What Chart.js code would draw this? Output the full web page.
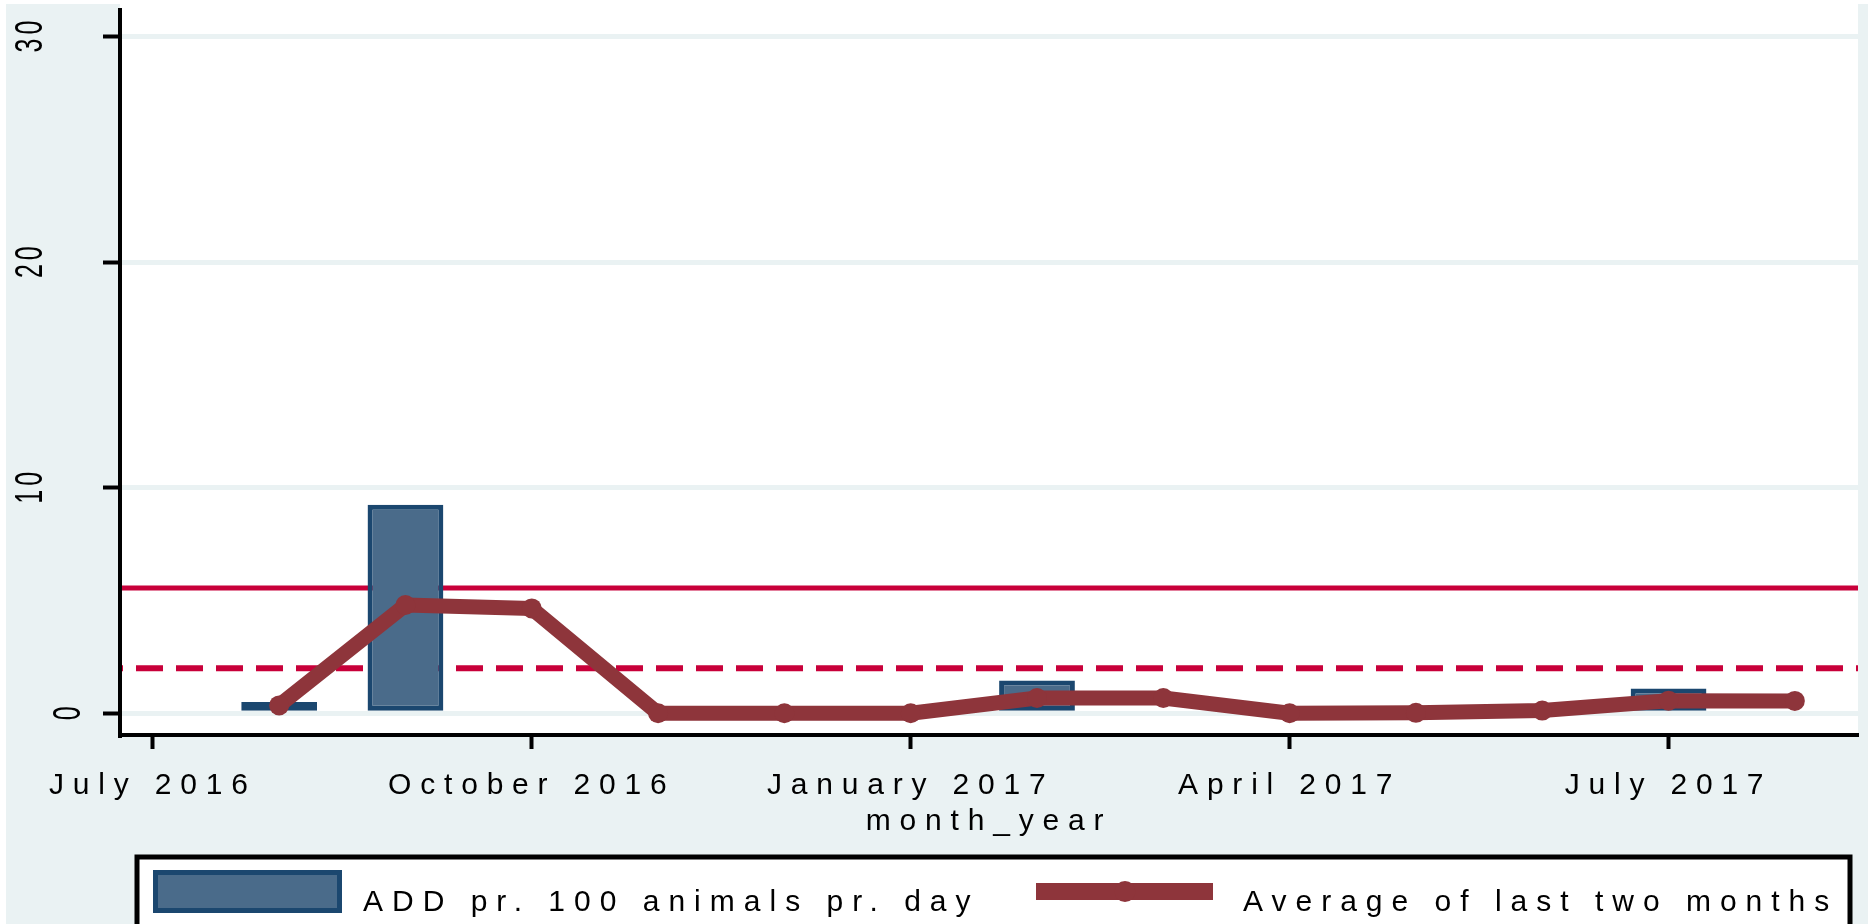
<!DOCTYPE html>
<html><head><meta charset="utf-8">
<script src="https://cdn.jsdelivr.net/npm/chart.js@4/dist/chart.umd.min.js"></script>
<style>html,body{margin:0;padding:0;background:#fff;overflow:hidden}#wrap{width:1868px;height:924px;position:relative}</style>
</head><body><div id="wrap"><canvas id="c" width="1868" height="924"></canvas></div>
<script>
// ---- data ----
const categories = ['August 2016','September 2016','October 2016','November 2016','December 2016','January 2017','February 2017','March 2017','April 2017','May 2017','June 2017','July 2017','August 2017'];
const monthIndex = [1,2,3,4,5,6,7,8,9,10,11,12,13]; // months since July 2016
const addValues = [0.5, 9.25, null, null, null, null, 1.45, null, null, null, null, 1.1, null];
const avgValues = [0.35, 4.8, 4.65, 0, 0, 0, 0.68, 0.68, 0, 0.02, 0.12, 0.56, 0.55];
const xTickValues = [0, 3, 6, 9, 12];
const xTickLabels = ['July 2016','October 2016','January 2017','April 2017','July 2017'];
const yTickValues = [0, 10, 20, 30];
const yTickLabels = ['0','10','20','30'];
const upperLimit = 5.55;
const lowerLimit = 2;
const seriesNames = ['ADD pr. 100 animals pr. day','Average of last two months'];
const xTitle = 'month_year';

// ---- styles ----
const FONT = '"Liberation Sans", Arial, sans-serif';
const BG = '#EAF2F3';
const BAR_FILL = '#4A6B8A', BAR_EDGE = '#1B476F';
const LINE_COL = '#8E353B';
const REF_COL = '#C8003A';

const bgPlugin = {
  id: 'bg',
  beforeDraw(chart) {
    const {ctx, chartArea: a, width, height} = chart;
    ctx.save();
    ctx.fillStyle = '#fff'; ctx.fillRect(0, 0, width, height);
    ctx.fillStyle = BG; ctx.fillRect(6, 4, width - 6, height - 4);
    ctx.fillStyle = '#fff'; ctx.fillRect(a.left, 0, a.right - a.left, a.bottom);
    ctx.restore();
    ctx.letterSpacing = '8.8px';
  }
};

const refPlugin = {
  id: 'refLines',
  beforeDatasetsDraw(chart) {
    const {ctx, chartArea: a, scales: {y}} = chart;
    ctx.save();
    ctx.strokeStyle = REF_COL;
    ctx.lineWidth = 5;
    let py = y.getPixelForValue(upperLimit);
    ctx.beginPath(); ctx.moveTo(a.left + 2, py); ctx.lineTo(a.right, py); ctx.stroke();
    ctx.lineWidth = 6;
    ctx.setLineDash([27, 13]);
    ctx.lineDashOffset = -14;
    py = y.getPixelForValue(lowerLimit);
    ctx.beginPath(); ctx.moveTo(a.left + 2, py); ctx.lineTo(a.right, py); ctx.stroke();
    ctx.restore();
  }
};

const yLabelPlugin = {
  id: 'yLabels',
  afterDraw(chart) {
    const {ctx, chartArea: a, scales: {y}} = chart;
    ctx.save();
    ctx.font = '25px ' + FONT;
    ctx.fillStyle = '#000';
    ctx.textAlign = 'center';
    ctx.textBaseline = 'alphabetic';
    yTickValues.forEach((v, i) => {
      const py = y.getPixelForValue(v);
      ctx.letterSpacing = '0px';
      const w = ctx.measureText(yTickLabels[i]).width;
      const bx = a.left - 2 - 2.73 * w;
      ctx.save();
      ctx.translate(bx, py);
      ctx.rotate(-Math.PI / 2);
      ctx.scale(1, 1.55);
      ctx.letterSpacing = '4px';
      ctx.fillText(yTickLabels[i], 2, 0);
      ctx.restore();
    });
    ctx.restore();
  }
};

const legendPlugin = {
  id: 'customLegend',
  afterDraw(chart) {
    const {ctx} = chart;
    const ds = chart.data.datasets;
    const line = ds[0], bar = ds[1];
    ctx.save();
    ctx.fillStyle = '#fff';
    ctx.fillRect(137, 857, 1713, 100);
    ctx.strokeStyle = '#000'; ctx.lineWidth = 5;
    ctx.strokeRect(137, 857, 1713, 100);
    // bar swatch
    ctx.fillStyle = bar.backgroundColor; ctx.fillRect(153, 870, 189, 43);
    ctx.strokeStyle = bar.borderColor; ctx.lineWidth = 5; ctx.strokeRect(155.5, 872.5, 184, 38);
    // line swatch
    ctx.strokeStyle = line.borderColor; ctx.lineWidth = 17;
    ctx.beginPath(); ctx.moveTo(1036, 891.5); ctx.lineTo(1213, 891.5); ctx.stroke();
    ctx.fillStyle = line.borderColor;
    ctx.beginPath(); ctx.arc(1125, 891.5, 10.5, 0, Math.PI * 2); ctx.fill();
    // texts
    ctx.font = '30px ' + FONT;
    ctx.letterSpacing = '9px';
    ctx.fillStyle = '#000';
    ctx.textAlign = 'left'; ctx.textBaseline = 'alphabetic';
    ctx.fillText(bar.label, 363, 911);
    ctx.fillText(line.label, 1243, 911);
    ctx.restore();
  }
};

new Chart(document.getElementById('c'), {
  type: 'bar',
  data: {
    datasets: [
      {
        type: 'line', label: seriesNames[1],
        data: monthIndex.map((m, i) => ({x: m, y: avgValues[i]})),
        borderColor: LINE_COL, backgroundColor: LINE_COL,
        borderWidth: 15, pointRadius: 10, pointBackgroundColor: LINE_COL,
        pointBorderWidth: 0, tension: 0, order: 0,
        borderJoinStyle: 'round', borderCapStyle: 'round'
      },
      {
        type: 'bar', label: seriesNames[0],
        data: monthIndex.map((m, i) => ({x: m, y: addValues[i]})),
        backgroundColor: BAR_FILL, borderColor: BAR_EDGE, borderWidth: 5,
        barPercentage: 0.6, categoryPercentage: 1, order: 1, borderSkipped: false
      }
    ]
  },
  options: {
    responsive: false, animation: false, devicePixelRatio: 1,
    layout: {padding: 0},
    plugins: {legend: {display: false}, tooltip: {enabled: false}},
    scales: {
      x: {
        type: 'linear', position: 'bottom', min: -0.26, max: 13.5, offset: false,
        afterBuildTicks: s => { s.ticks = xTickValues.map(v => ({value: v})); },
        afterFit: s => { s.height = 189; },
        grid: {display: true, offset: false, drawOnChartArea: false, drawTicks: true, tickLength: 14, tickWidth: 4, tickColor: '#000'},
        border: {display: true, color: '#000', width: 4},
        ticks: {autoSkip: false, maxRotation: 0, minRotation: 0, padding: 19, color: '#000',
          font: {family: FONT, size: 30},
          callback: v => { const k = xTickValues.indexOf(v); return k >= 0 ? xTickLabels[k] : ''; }},
        title: {display: true, text: xTitle, color: '#000', font: {family: FONT, size: 30}, padding: {top: 0, bottom: 84}}
      },
      y: {
        type: 'linear', min: -0.962, max: 31.18,
        afterBuildTicks: s => { s.ticks = yTickValues.map(v => ({value: v})); },
        afterFit: s => { s.width = 120; },
        grid: {color: BG, lineWidth: 5, drawTicks: true, tickLength: 17, tickWidth: 4, tickColor: '#000'},
        border: {display: true, color: '#000', width: 4},
        ticks: {display: false}
      }
    }
  },
  plugins: [bgPlugin, refPlugin, yLabelPlugin, legendPlugin]
});
</script>
</body></html>
